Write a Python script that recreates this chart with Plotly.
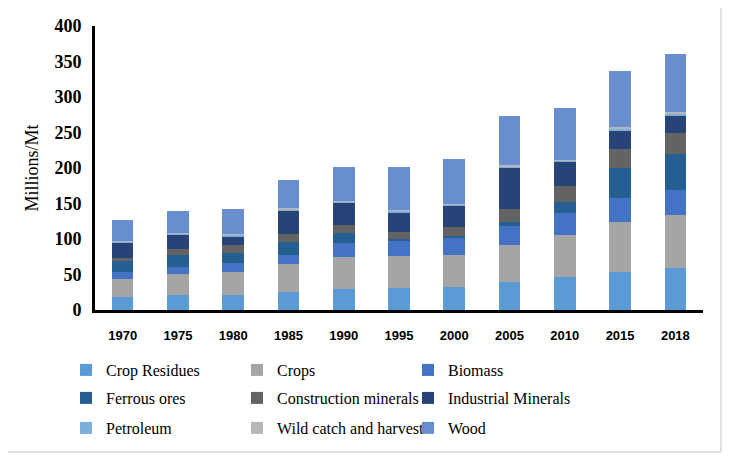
import plotly.graph_objects as go

years = ["1970", "1975", "1980", "1985", "1990", "1995", "2000", "2005", "2010", "2015", "2018"]
crop_residues = [18.7, 21.6, 21.6, 25.4, 29.6, 31.0, 32.9, 39.0, 46.5, 53.9, 58.7]
crops = [25.4, 29.6, 32.3, 39.4, 44.6, 45.1, 44.6, 52.1, 59.6, 70.5, 75.5]
biomass = [9.8, 9.8, 12.7, 13.1, 19.7, 20.7, 24.9, 27.6, 30.1, 32.9, 34.8]
ferrous_ores = [15.0, 16.0, 13.7, 17.9, 14.6, 3.6, 1.8, 4.8, 16.3, 43.1, 50.3]
construction_minerals = [4.7, 9.4, 10.8, 11.2, 10.8, 9.9, 12.7, 19.2, 22.6, 26.8, 29.5]
industrial_minerals = [22.1, 20.2, 13.1, 32.9, 31.4, 27.7, 29.6, 57.3, 33.4, 24.9, 24.4]
petroleum = [1.2, 1.5, 1.8, 2.2, 1.8, 1.8, 1.8, 2.5, 1.8, 3.5, 4.0]
wild_catch = [0.6, 0.8, 1.0, 1.1, 1.0, 1.0, 1.0, 1.3, 1.0, 1.7, 2.1]
wood = [29.3, 30.5, 35.3, 39.4, 48.4, 60.2, 63.4, 69.4, 73.2, 79.3, 80.8]

# one horizontal legend per row of the reference legend grid
series = [
    ("Crop Residues", crop_residues, "#5B9BD5", "legend"),
    ("Crops", crops, "#A5A5A5", "legend"),
    ("Biomass", biomass, "#4472C4", "legend"),
    ("Ferrous ores", ferrous_ores, "#255E91", "legend2"),
    ("Construction minerals", construction_minerals, "#636363", "legend2"),
    ("Industrial Minerals", industrial_minerals, "#264478", "legend2"),
    ("Petroleum", petroleum, "#7CAFDD", "legend3"),
    ("Wild catch and harvest", wild_catch, "#B7B7B7", "legend3"),
    ("Wood", wood, "#698ED0", "legend3"),
]

fig = go.Figure()
for name, vals, color, leg in series:
    fig.add_trace(go.Bar(
        x=years, y=vals, name=name, legend=leg,
        marker=dict(color=color, line=dict(width=0)),
    ))

serif = "Liberation Serif"
legend_common = dict(
    orientation="h", traceorder="normal",
    entrywidth=126, entrywidthmode="pixels",
    font=dict(family=serif, size=16, color="black"),
    bgcolor="rgba(0,0,0,0)", borderwidth=0,
    xanchor="left", yanchor="middle", x=-0.0477,
)

fig.update_layout(
    width=723, height=456,
    barmode="stack", bargap=0.61,
    paper_bgcolor="white", plot_bgcolor="white",
    margin=dict(l=87, r=28, t=18, b=154, autoexpand=False),
    showlegend=True,
    legend=dict(legend_common, y=-0.2113),
    legend2=dict(legend_common, y=-0.3099),
    legend3=dict(legend_common, y=-0.4155),
    xaxis=dict(
        type="category", showline=True, linecolor="black", linewidth=3,
        ticks="", showgrid=False, ticklabelstandoff=11,
        tickfont=dict(family="Liberation Sans", size=13, color="black", weight="bold"),
    ),
    yaxis=dict(
        range=[0, 400], dtick=50, showline=True, linecolor="black", linewidth=3,
        ticks="", showgrid=False, zeroline=False, ticklabelstandoff=7,
        tickfont=dict(family=serif, size=18, color="black", weight="bold"),
        title=dict(text="Millions/Mt", font=dict(family=serif, size=18, color="black"), standoff=12),
    ),
    shapes=[
        dict(type="line", xref="paper", yref="paper", x0=1.0296, x1=1.0296, y0=-0.5, y1=1.1,
             line=dict(color="#D9D9D9", width=1.5)),
        dict(type="line", xref="paper", yref="paper", x0=-0.2, x1=1.0296, y0=-0.5, y1=-0.5,
             line=dict(color="#D9D9D9", width=1.5)),
    ],
)

fig.write_html("out.html")
